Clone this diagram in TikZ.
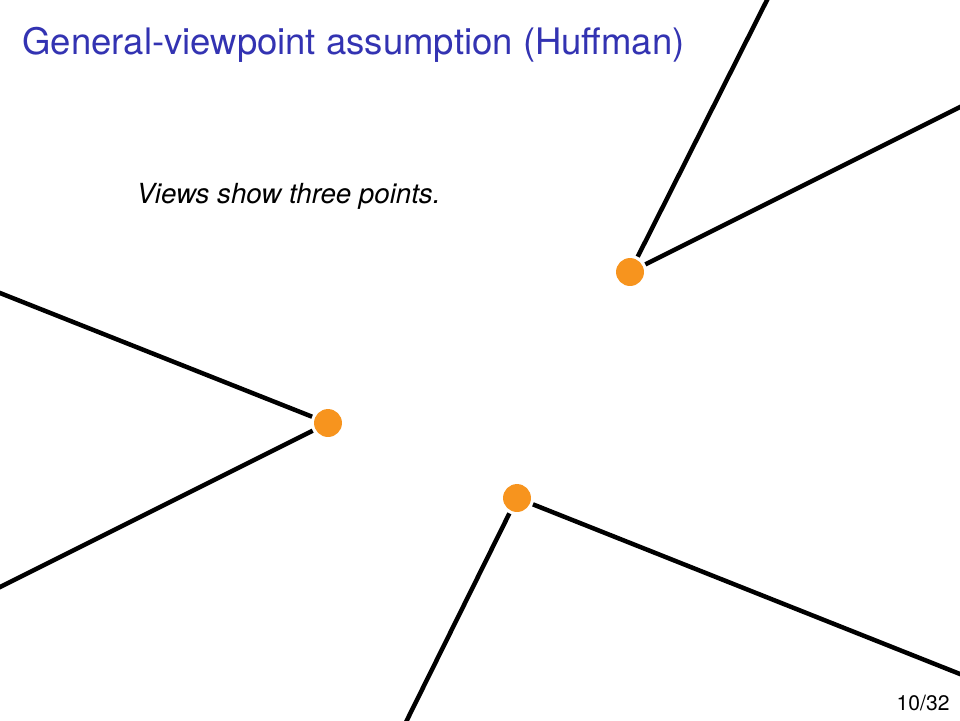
\documentclass[tikz,border=0pt]{standalone}
\usepackage{fontspec}
\setmainfont{TeX Gyre Heros}
\usetikzlibrary{positioning}

\definecolor{titleblue}{rgb}{0.2,0.2,0.7}
\definecolor{dotorange}{RGB}{247,148,30}

\begin{document}
\begin{tikzpicture}[x=0.013333cm, y=-0.013333cm,
  dot/.style={circle, fill=dotorange, minimum size=10.6pt, inner sep=0pt, outer sep=1.2pt},
  edge/.style={line width=1.7pt, shorten >=-4pt}]

  \clip (0,0) rectangle (960,720);
  \fill[white] (0,0) rectangle (960,720);

  % title and text
  \node[anchor=base west, font=\fontsize{13.85}{17}\selectfont, text=titleblue, inner sep=0pt]
    (title) at (22,54) {General-viewpoint assumption (Huffman)};
  \node[anchor=base west, font=\fontsize{10.5}{12}\selectfont\itshape, inner sep=0pt]
    (caption) at (136,203) {Views show three points.};
  \node[anchor=base east, font=\fontsize{8}{10}\selectfont, inner sep=0pt]
    (pagenum) at (950,710) {10/32};

  % the three points
  \node[dot] (p1) at (630,272) {};
  \node[dot] (p2) at (328,423) {};
  \node[dot] (p3) at (517,498) {};

  % far ends, on the frame
  \coordinate (p1a) at (767,0);
  \coordinate (p1b) at (960,107);
  \coordinate (p2a) at (0,293);
  \coordinate (p2b) at (0,587);
  \coordinate (p3a) at (407,720);
  \coordinate (p3b) at (960,674);

  % edges
  \draw[edge] (p1) -- (p1a);
  \draw[edge] (p1) -- (p1b);
  \draw[edge] (p2) -- (p2a);
  \draw[edge] (p2) -- (p2b);
  \draw[edge] (p3) -- (p3a);
  \draw[edge] (p3) -- (p3b);

\end{tikzpicture}
\end{document}
